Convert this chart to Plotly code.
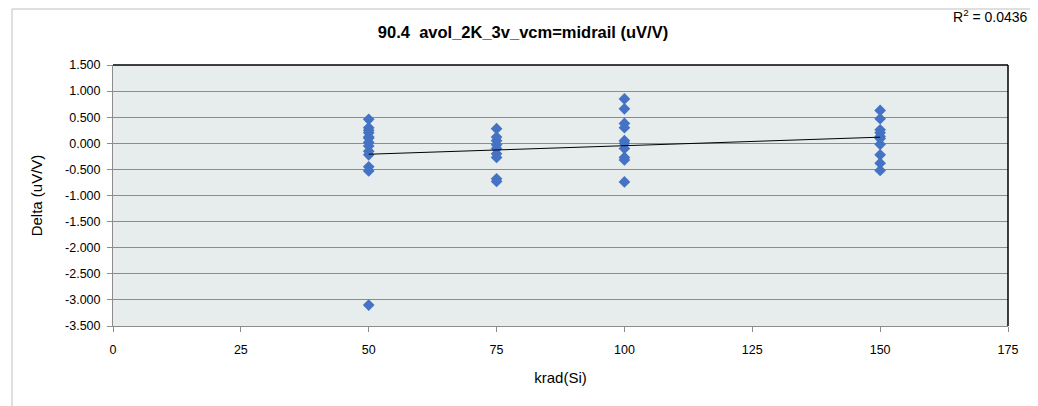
import numpy as np
import plotly.graph_objects as go

dose_50 = [0.46, 0.30, 0.25, 0.20, 0.12, 0.10, 0.02, -0.05, -0.15, -0.22,
           -0.45, -0.53, -3.10]
dose_75 = [0.28, 0.12, 0.05, -0.03, -0.10, -0.20, -0.27, -0.68, -0.73]
dose_100 = [0.85, 0.66, 0.38, 0.30, 0.05, 0.00, -0.10, -0.27, -0.32, -0.74]
dose_150 = [0.63, 0.47, 0.26, 0.20, 0.13, 0.09, -0.02, -0.22, -0.38, -0.52]

x_ticks = [0, 25, 50, 75, 100, 125, 150, 175]
y_ticks = [1.5, 1.0, 0.5, 0.0, -0.5, -1.0, -1.5, -2.0, -2.5, -3.0, -3.5]

xs, ys = [], []
for d, vals in [(50, dose_50), (75, dose_75), (100, dose_100), (150, dose_150)]:
    xs += [d] * len(vals)
    ys += vals
xs = np.array(xs, dtype=float)
ys = np.array(ys)

slope, icpt = np.polyfit(xs, ys, 1)
line_x = np.array([xs.min(), xs.max()])
line_y = slope * line_x + icpt

font = "Liberation Sans"
W, H = 1030, 398   # page body has an 8px margin
L, R, T, B = 105, 30, 57, 80
pw, ph = W - L - R, H - T - B

fig = go.Figure()
fig.add_trace(go.Scatter(x=xs, y=ys, mode="markers",
                         marker=dict(symbol="diamond", size=9, color="#4472c4",
                                     line=dict(width=0))))
fig.add_trace(go.Scatter(x=line_x, y=line_y, mode="lines",
                         line=dict(color="black", width=1)))

fig.update_layout(
    width=W, height=H,
    margin=dict(l=L, r=R, t=T, b=B),
    paper_bgcolor="white", plot_bgcolor="#e7ecec",
    showlegend=False,
    font=dict(family=font, size=12, color="black"),
    title=dict(text="<b>90.4  avol_2K_3v_vcm=midrail (uV/V)</b>",
               x=0.5, xanchor="center", y=1 - 24 / H, yanchor="middle",
               font=dict(size=16.5, family=font)),
)
fig.update_xaxes(range=[0, 175], tickvals=x_ticks, showgrid=False,
                 showline=True, linecolor="#8c8c8c", linewidth=1,
                 ticks="outside", ticklen=5, tickcolor="#8c8c8c",
                 ticklabelstandoff=7,
                 zeroline=False, tickfont=dict(size=12.5),
                 title=dict(text="krad(Si)", font=dict(size=15), standoff=16))
fig.update_yaxes(range=[-3.5, 1.5], tickvals=y_ticks,
                 ticktext=["%.3f" % v for v in y_ticks],
                 showgrid=True, gridcolor="#8c8c8c", gridwidth=1,
                 showline=True, linecolor="#8c8c8c", linewidth=1,
                 ticks="outside", ticklen=5, tickcolor="#8c8c8c",
                 ticklabelstandoff=4,
                 zeroline=False, tickfont=dict(size=12.5),
                 title=dict(text="Delta (uV/V)", font=dict(size=15), standoff=18))

# black plot-area border on top and right
fig.add_shape(type="line", xref="paper", yref="paper", x0=0, x1=1, y0=1, y1=1,
              line=dict(color="black", width=1.5))
fig.add_shape(type="line", xref="paper", yref="paper", x0=1, x1=1, y0=0, y1=1,
              line=dict(color="black", width=1.5))
# chart-area frame (left and top edges)
fx = -(L - 4) / pw
fy = 1 + (T - 1) / ph
fig.add_shape(type="line", xref="paper", yref="paper",
              x0=fx, x1=1 + R / pw, y0=fy, y1=fy,
              line=dict(color="#bfbfbf", width=1))
fig.add_shape(type="line", xref="paper", yref="paper",
              x0=fx, x1=fx, y0=-B / ph, y1=fy,
              line=dict(color="#bfbfbf", width=1))

fig.add_annotation(text="R<sup>2</sup> = 0.0436", xref="paper", yref="paper",
                   x=1 + 22 / pw, y=1 + 49 / ph, xanchor="right", yanchor="middle",
                   showarrow=False, font=dict(size=14, family=font))

fig.write_html("out.html")
